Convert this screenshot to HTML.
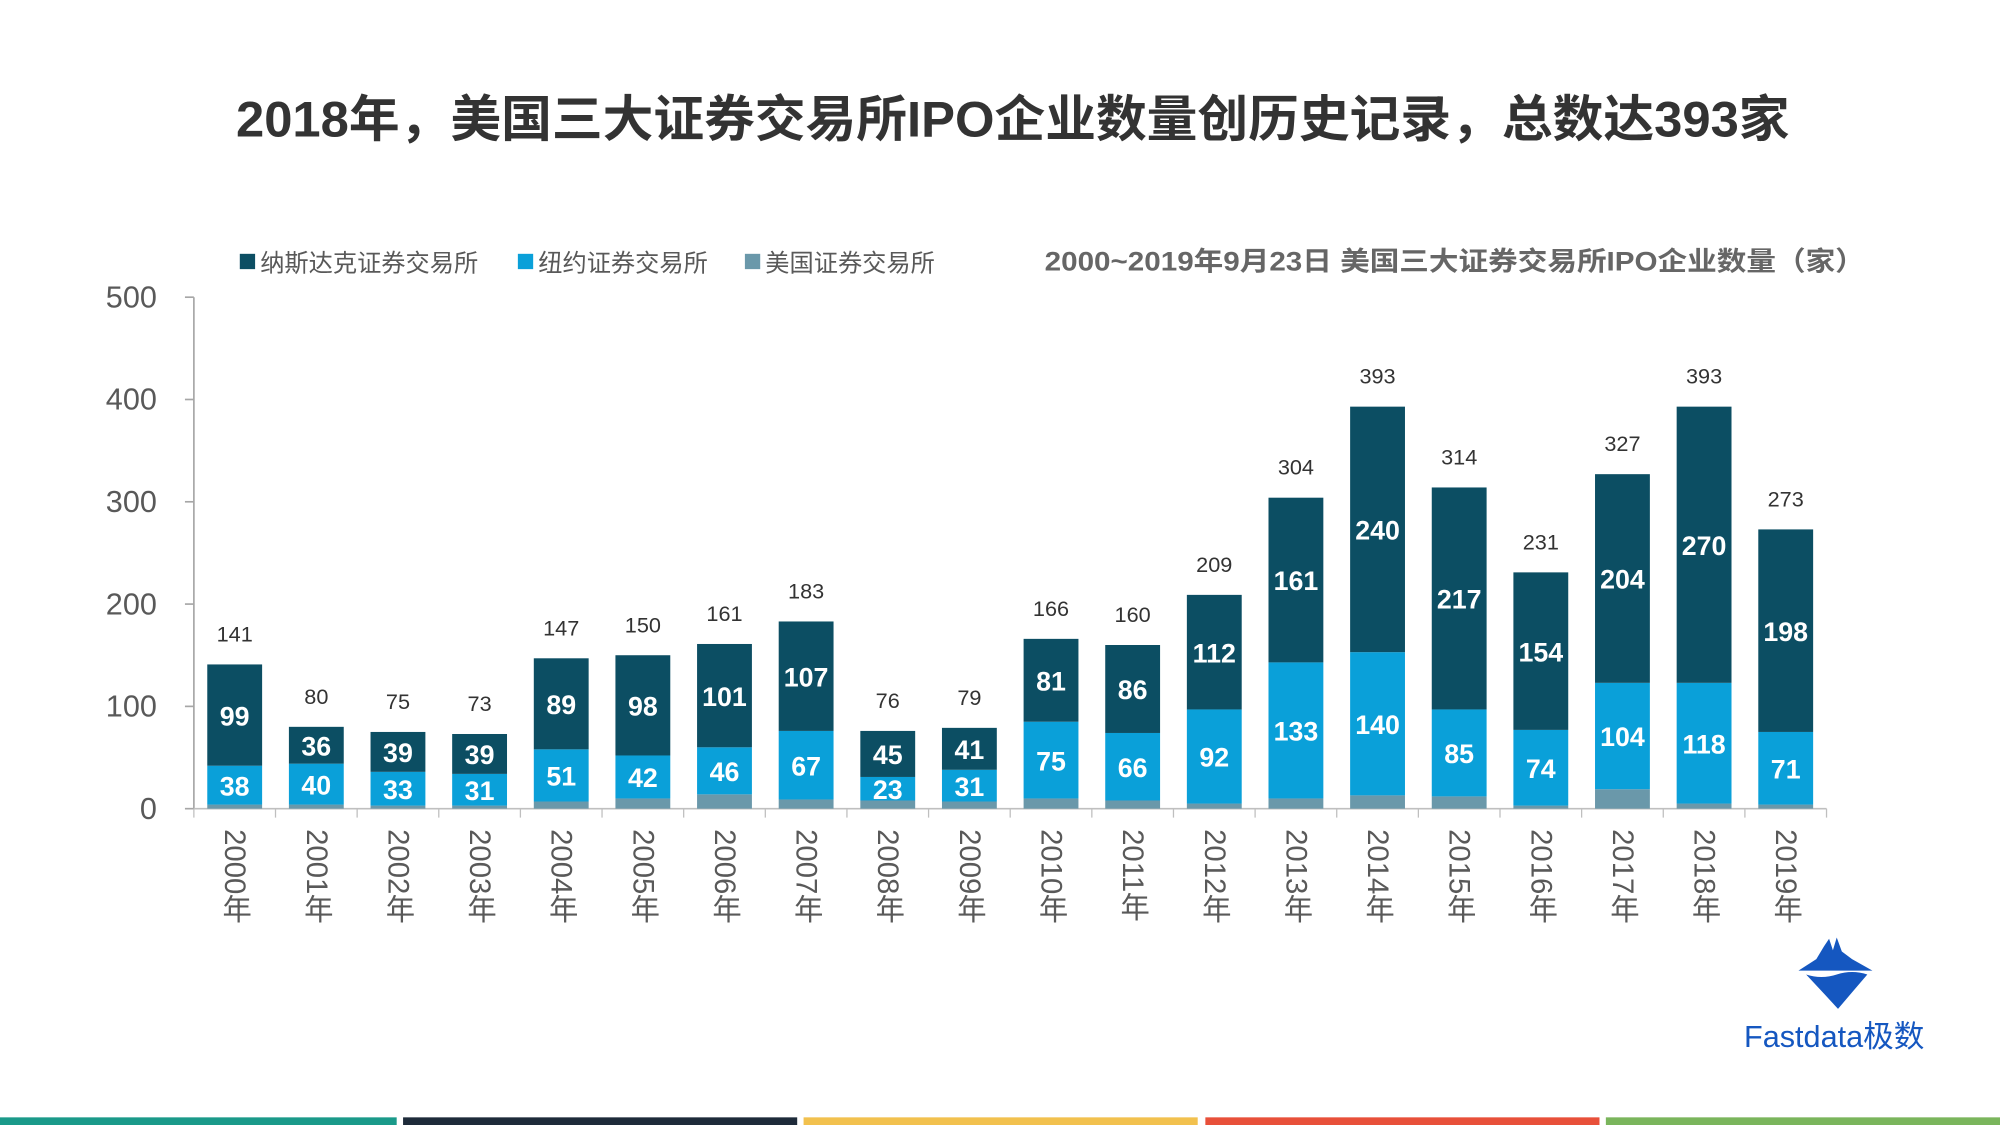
<!DOCTYPE html>
<html><head><meta charset="utf-8"><style>
html,body{margin:0;padding:0;background:#fff;}
svg{display:block;}
text{font-family:"Liberation Sans","Noto Sans CJK SC",sans-serif;}
</style></head><body>
<svg id="chart" width="2000" height="1125" viewBox="0 0 1568 882" preserveAspectRatio="none" xmlns="http://www.w3.org/2000/svg">
<text x="185" y="107" textLength="1218" lengthAdjust="spacingAndGlyphs" font-size="39" font-weight="bold" fill="#333">2018年，美国三大证券交易所IPO企业数量创历史记录，总数达393家</text>
<g>
<rect x="188" y="199" width="12" height="12" fill="#0c4e63"/>
<text x="204" y="213" font-size="19" fill="#595959">纳斯达克证券交易所</text>
<rect x="406" y="199" width="12" height="12" fill="#0aa0d9"/>
<text x="422" y="213" font-size="19" fill="#595959">纽约证券交易所</text>
<rect x="584" y="199" width="12" height="12" fill="#6a98aa"/>
<text x="600" y="213" font-size="19" fill="#595959">美国证券交易所</text>
</g>
<text x="819" y="212" textLength="643" lengthAdjust="spacingAndGlyphs" font-size="21" font-weight="bold" fill="#666">2000~2019年9月23日 美国三大证券交易所IPO企业数量（家）</text>
<g id="axes"></g>
<g id="bars"></g>
<g>
<path d="M1410,761 L1424,752 L1430,742 L1434,736 L1437,745 L1440,735 L1444,746 L1452,752 L1468,761 Z" fill="#1557c0"/>
<path d="M1416,764 Q1428,768 1440,764 Q1452,760 1464,764 L1452,778 L1441,791 L1430,779 Z" fill="#1557c0"/>
<text x="1438" y="821" text-anchor="middle" font-size="24" fill="#1557c0">Fastdata极数</text>
</g>
<g>
<rect x="0" y="876" width="311" height="6" fill="#1a9a8a"/>
<rect x="316" y="876" width="309" height="6" fill="#1e2b3a"/>
<rect x="630" y="876" width="309" height="6" fill="#f2c14e"/>
<rect x="945" y="876" width="309" height="6" fill="#e8503a"/>
<rect x="1259" y="876" width="309" height="6" fill="#7ab55c"/>
</g>
</svg>
<script>
const years = ["2000","2001","2002","2003","2004","2005","2006","2007","2008","2009","2010","2011","2012","2013","2014","2015","2016","2017","2018","2019"];
const nasdaq = [99,36,39,39,89,98,101,107,45,41,81,86,112,161,240,217,154,204,270,198];
const nyse = [38,40,33,31,51,42,46,67,23,31,75,66,92,133,140,85,74,104,118,71];
const amex = [4,4,3,3,7,10,14,9,8,7,10,8,5,10,13,12,3,19,5,4];
const totals = [141,80,75,73,147,150,161,183,76,79,166,160,209,304,393,314,231,327,393,273];
const yTicks = [0,100,200,300,400,500];

const NS="http://www.w3.org/2000/svg";
const x0=152, x1=1432, yBase=634, yTop=233, yMax=500;
const band=(x1-x0)/years.length, bw=43;
const yS=v=>yBase-(v/yMax)*(yBase-yTop);
const xC=i=>x0+band*(i+0.5);
function mk(tag,attrs,parent){const e=document.createElementNS(NS,tag);for(const k in attrs)e.setAttribute(k,attrs[k]);parent.appendChild(e);return e;}
const axes=document.getElementById('axes'), bars=document.getElementById('bars');

let e=mk('line',{x1:x0,y1:yTop,x2:x0,y2:yBase,stroke:'#a6a6a6','stroke-width':1.3},axes);


e=mk('line',{x1:x0,y1:yBase,x2:x1,y2:yBase,stroke:'#bfbfbf','stroke-width':1.3},axes);


yTicks.forEach(t=>{
  const y=yS(t);
  let l=mk('line',{x1:x0-7,y1:y,x2:x0,y2:y,stroke:'#a6a6a6','stroke-width':1.3},axes);
  
  
  let tx=mk('text',{x:123,y:y+8,'text-anchor':'end','font-size':24,fill:'#595959'},axes);
  tx.textContent=t;
  
  
});
for(let i=0;i<=years.length;i++){
  const x=x0+band*i;
  let l=mk('line',{x1:x,y1:yBase,x2:x,y2:yBase+7,stroke:'#bfbfbf','stroke-width':1},axes);
  
  
}
years.forEach((yr,i)=>{
  const cx=xC(i), bx=cx-bw/2;
  let r=mk('rect',{x:bx,y:yS(amex[i]),width:bw,height:yBase-yS(amex[i]),fill:'#6a98aa'},bars);
  
  
  const n1=amex[i]+nyse[i];
  r=mk('rect',{x:bx,y:yS(n1),width:bw,height:yS(amex[i])-yS(n1),fill:'#0aa0d9'},bars);
  
  
  const n2=n1+nasdaq[i];
  r=mk('rect',{x:bx,y:yS(n2),width:bw,height:yS(n1)-yS(n2),fill:'#0c4e63'},bars);
  
  
  let t=mk('text',{x:cx,y:(yS(amex[i])+yS(n1))/2+8,'text-anchor':'middle','font-size':21,'font-weight':'bold',fill:'#fff'},bars);
  t.textContent=nyse[i];
  
  
  t=mk('text',{x:cx,y:(yS(n1)+yS(n2))/2+8,'text-anchor':'middle','font-size':21,'font-weight':'bold',fill:'#fff'},bars);
  t.textContent=nasdaq[i];
  
  
  t=mk('text',{x:cx,y:yS(totals[i])-18,'text-anchor':'middle','font-size':17,fill:'#333'},bars);
  t.textContent=totals[i];
  
  
  t=mk('text',{x:cx,y:650,'font-size':23,fill:'#595959','writing-mode':'tb',style:'writing-mode:vertical-rl'},bars);
  t.textContent=yr+'年';
  
  
});
</script>
</body></html>
